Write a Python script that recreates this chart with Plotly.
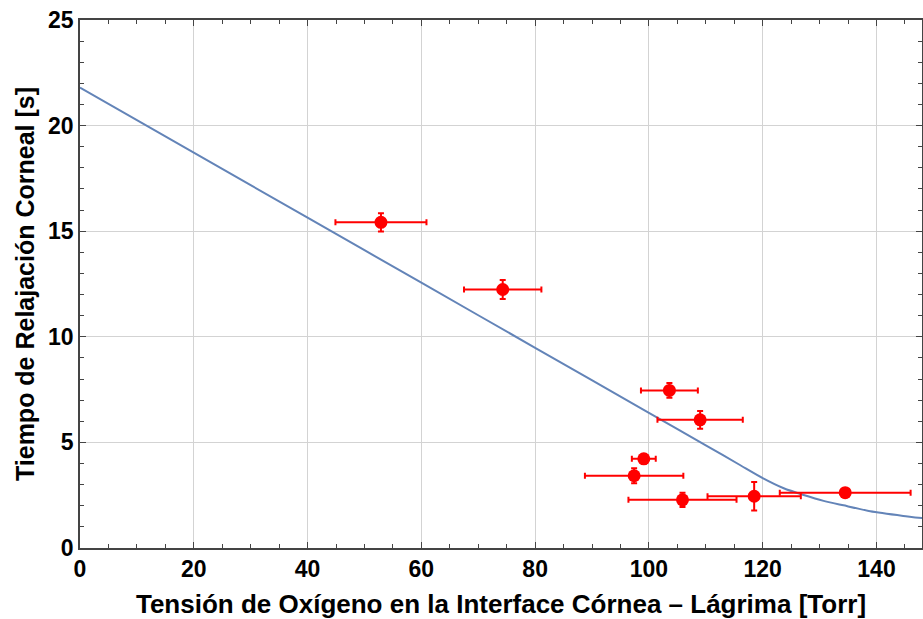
import plotly.graph_objects as go

# Measured data: oxygen tension at the cornea-tear interface vs corneal relaxation time
tension = [52.9, 74.3, 103.6, 109.0, 99.1, 97.4, 105.9, 118.5, 134.5]
tension_err = [8.0, 6.8, 5.0, 7.5, 2.1, 8.65, 9.5, 8.2, 11.5]
relax_time = [15.42, 12.24, 7.46, 6.07, 4.22, 3.42, 2.28, 2.45, 2.62]
relax_err = [0.43, 0.45, 0.35, 0.42, 0.22, 0.36, 0.34, 0.67, 0.0]

# Model curve
model_x = [0, 20, 40, 60, 80, 100, 110, 116, 120, 123.7, 127.2, 130.7, 134.2, 138.9, 144.7, 148.2]
model_y = [21.8, 18.72, 15.64, 12.56, 9.48, 6.4, 4.86, 3.93, 3.31, 2.83, 2.51, 2.23, 2.02, 1.74, 1.52, 1.41]

x_ticks = [0, 20, 40, 60, 80, 100, 120, 140]
y_ticks = [0, 5, 10, 15, 20, 25]

font_family = "Liberation Sans, Arial, sans-serif"

fig = go.Figure()

fig.add_trace(go.Scatter(
    x=model_x, y=model_y, mode="lines",
    line=dict(color="#6384b8", width=2, shape="spline", smoothing=0.5),
    hoverinfo="skip", showlegend=False,
))

fig.add_trace(go.Scatter(
    x=tension, y=relax_time, mode="markers",
    marker=dict(color="#ff0000", size=13),
    error_x=dict(type="data", array=tension_err, color="#ff0000", thickness=2, width=3),
    error_y=dict(type="data", array=relax_err, color="#ff0000", thickness=2, width=3),
    showlegend=False,
))

axis_common = dict(
    showline=True, linecolor="#444444", linewidth=1.5, mirror="ticks",
    ticks="inside", ticklen=6, tickwidth=1.3, tickcolor="#444444",
    showgrid=True, gridcolor="#d3d3d3", gridwidth=1,
    zeroline=False, automargin=False,
    tickfont=dict(family=font_family, size=23, color="black", weight="bold"),
)

fig.update_xaxes(
    range=[0, 148], tickvals=x_ticks,
    minor=dict(ticks="inside", ticklen=4, dtick=5, tick0=0, tickcolor="#444444", showgrid=False),
    title_text="Tensión de Oxígeno en la Interface Córnea – Lágrima [Torr]",
    title_font=dict(family=font_family, size=26, color="black", weight="bold"),
    title_standoff=14,
    **axis_common,
)
fig.update_yaxes(
    range=[0, 25], tickvals=y_ticks,
    minor=dict(ticks="inside", ticklen=4, dtick=1, tick0=0, tickcolor="#444444", showgrid=False),
    title_text="Tiempo de Relajación Corneal [s]",
    title_font=dict(family=font_family, size=25, color="black", weight="bold"),
    title_standoff=6,
    **axis_common,
)

fig.update_layout(
    width=923, height=619,
    margin=dict(l=80, r=1, t=20, b=71),
    plot_bgcolor="white", paper_bgcolor="white",
)

fig.write_html("out.html")
